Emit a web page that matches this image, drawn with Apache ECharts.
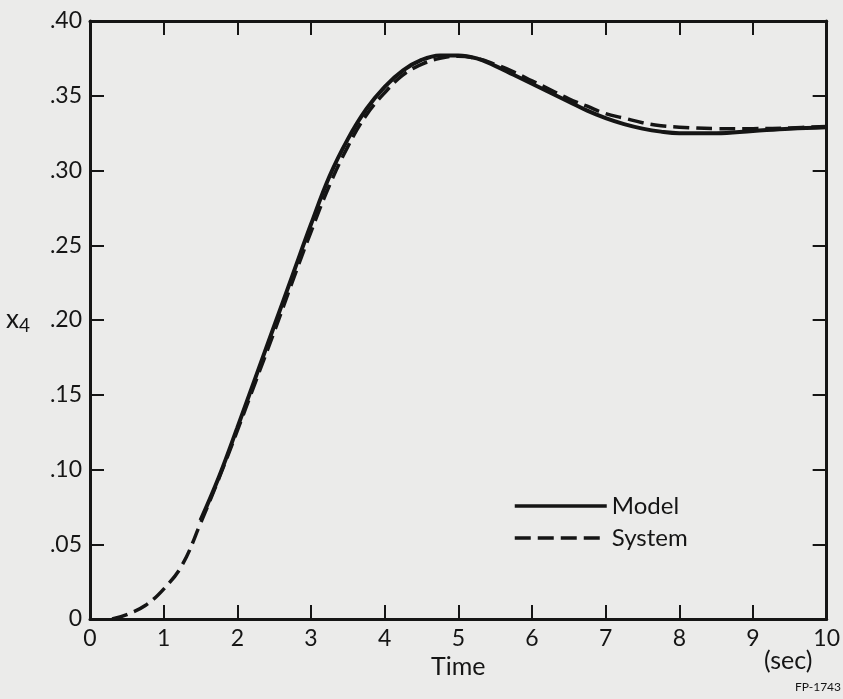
<!DOCTYPE html>
<html>
<head>
<meta charset="utf-8">
<script src="https://cdn.jsdelivr.net/npm/echarts@6/dist/echarts.min.js"></script>
<style>
  html, body { margin: 0; padding: 0; background: #ebebea; }
  #main { width: 843px; height: 699px; }
</style>
</head>
<body>
<div id="main"></div>
<script>
// time (sec) and x4
var modelT = [1.5, 1.75, 2.0, 2.25, 2.5, 2.75, 3.0, 3.25, 3.5, 3.75, 4.0, 4.25, 4.5, 4.75, 5.0, 5.25, 5.5, 5.75, 6.0, 6.25, 6.5, 6.75, 7.0, 7.25, 7.5, 7.75, 8.0, 8.5, 9.0, 9.5, 10];
var modelX = [0.066, 0.095, 0.128, 0.162, 0.196, 0.230, 0.264, 0.296, 0.321, 0.341, 0.356, 0.367, 0.374, 0.377, 0.377, 0.375, 0.370, 0.364, 0.358, 0.352, 0.346, 0.340, 0.335, 0.331, 0.328, 0.326, 0.325, 0.325, 0.3265, 0.328, 0.329];
var systemT = [0.3, 0.5, 0.75, 1.0, 1.25, 1.5, 1.75, 2.0, 2.25, 2.5, 2.75, 3.0, 3.25, 3.5, 3.75, 4.0, 4.25, 4.5, 4.75, 5.0, 5.25, 5.5, 5.75, 6.0, 6.25, 6.5, 6.75, 7.0, 7.25, 7.5, 7.75, 8.0, 8.5, 9.0, 9.5, 10];
var systemX = [0.0, 0.003, 0.009, 0.020, 0.036, 0.064, 0.094, 0.126, 0.159, 0.192, 0.226, 0.259, 0.290, 0.316, 0.337, 0.352, 0.364, 0.371, 0.375, 0.3765, 0.375, 0.371, 0.366, 0.360, 0.354, 0.348, 0.343, 0.338, 0.335, 0.332, 0.330, 0.329, 0.328, 0.328, 0.3285, 0.3295];

function pairs(t, x) {
  return t.map(function (v, i) { return [v, x[i]]; });
}

var ink = '#151515';
var font = 'Lato, "Noto Sans", sans-serif';

function frameAxis(extra) {
  var a = {
    axisLine: { onZero: false, lineStyle: { color: ink, width: 3 } },
    axisTick: { inside: true, length: 14, lineStyle: { color: ink, width: 2 } },
    splitLine: { show: false }
  };
  for (var k in extra) a[k] = extra[k];
  return a;
}

var chart = echarts.init(document.getElementById('main'));
var option = {
  backgroundColor: '#ebebea',
  animation: false,
  grid: { left: 90, right: 7, top: 21, bottom: 80 },
  legend: {
    orient: 'vertical',
    left: 508,
    top: 489,
    itemWidth: 92,
    itemHeight: 14,
    itemGap: 8,
    itemStyle: { opacity: 0 },
    lineStyle: { width: 3.5 },
    textStyle: { fontFamily: font, fontSize: 24, color: ink, padding: [0, 0, 0, 0] },
    data: ['Model', 'System']
  },
  xAxis: [frameAxis({
    type: 'value', min: 0, max: 10, interval: 1,
    name: 'Time', nameLocation: 'middle', nameGap: 34,
    nameTextStyle: { fontFamily: font, fontSize: 25, color: ink },
    axisLabel: { fontFamily: font, fontSize: 23, color: ink, margin: 8 }
  }), frameAxis({
    type: 'value', min: 0, max: 10, interval: 1, position: 'top',
    axisLabel: { show: false }
  })],
  yAxis: [frameAxis({
    type: 'value', min: 0, max: 0.4, interval: 0.05,
    name: 'x{s|4}', nameLocation: 'middle', nameRotate: 0, nameGap: 60,
    nameTextStyle: {
      fontFamily: font, fontSize: 26, color: ink,
      rich: { s: { fontFamily: font, fontSize: 19, color: ink, padding: [12, 0, 0, 0] } }
    },
    axisLabel: {
      fontFamily: font, fontSize: 23, color: ink, margin: 8,
      formatter: function (v) {
        if (v === 0) return '0';
        return '.' + String(Math.round(v * 100)).padStart(2, '0');
      }
    }
  }), frameAxis({
    type: 'value', min: 0, max: 0.4, interval: 0.05, position: 'right',
    axisLabel: { show: false }
  })],
  graphic: [
    { type: 'text', left: 764, top: 648, style: { text: '(sec)', font: '25px ' + font, fill: ink } },
    { type: 'text', left: 795, top: 681, style: { text: 'FP-1743', font: '12px ' + font, fill: ink } }
  ],
  series: [{
    name: 'Model', type: 'line', smooth: 0.4, symbol: 'none',
    data: pairs(modelT, modelX),
    lineStyle: { color: ink, width: 4 },
    itemStyle: { color: ink }
  }, {
    name: 'System', type: 'line', smooth: 0.4, symbol: 'none',
    data: pairs(systemT, systemX),
    lineStyle: { color: ink, width: 3.5, type: [16, 7] },
    itemStyle: { color: ink }
  }]
};
chart.setOption(option);
</script>
</body>
</html>
